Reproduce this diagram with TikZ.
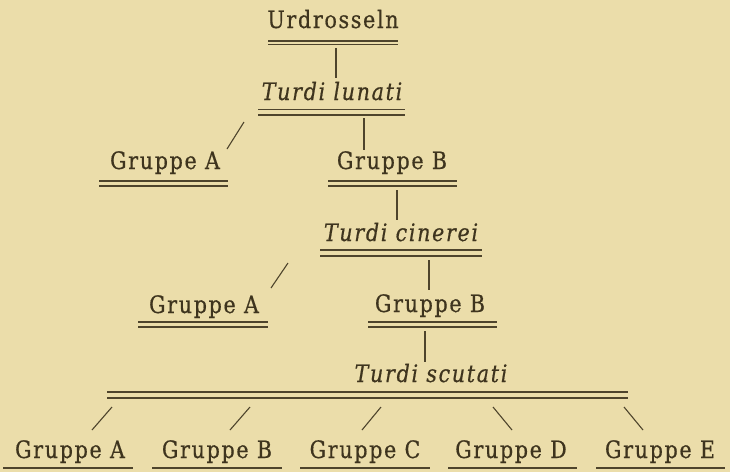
\documentclass[tikz,border=0pt]{standalone}
\usepackage{fontspec}
\setmainfont{DejaVu Serif}[FakeStretch=0.86, LetterSpace=7, FakeBold=0.5]
\definecolor{bg}{RGB}{235,221,170}
\definecolor{ink}{RGB}{62,52,30}
\definecolor{rule}{RGB}{78,68,44}
\begin{document}
\begin{tikzpicture}[x=1pt,y=-1pt,
  lbl/.style={font=\fontsize{24}{26}\selectfont, text=ink, inner sep=0pt, anchor=base},
  itl/.style={font=\fontsize{24}{26}\selectfont\itshape, text=ink, inner sep=0pt, anchor=base},
  ul/.style={draw=rule, line width=1.1pt},
  conn/.style={draw=rule, line width=1.1pt}]
\useasboundingbox (0,0) rectangle (730,472);
\fill[bg] (0,0) rectangle (730,472);

% labels
\node[lbl] (u)   at (333,28)  {Urdrosseln};
\node[itl] (tl)  at (332,100) {Turdi lunati};
\node[lbl] (ga1) at (165,169) {Gruppe A};
\node[lbl] (gb1) at (392,169) {Gruppe B};
\node[itl] (tc)  at (401,241) {Turdi cinerei};
\node[lbl] (ga2) at (204,313) {Gruppe A};
\node[lbl] (gb2) at (430,312) {Gruppe B};
\node[itl] (ts)  at (431,382) {Turdi scutati};
\node[lbl] (ba)  at (70,458)  {Gruppe A};
\node[lbl] (bb)  at (217,458) {Gruppe B};
\node[lbl] (bc)  at (365,458) {Gruppe C};
\node[lbl] (bd)  at (511,458) {Gruppe D};
\node[lbl] (be)  at (660,458) {Gruppe E};

% double underlines
\foreach \xa/\xb/\ya/\yb in {268/398/41/44.5, 258/405/109.5/115, 99/228/181/186,
  328/457/181/186, 320/482/250/256, 138/268/322/327, 368/497/322/327, 107/628/392/398}{
  \draw[ul] (\xa,\ya) -- (\xb,\ya);
  \draw[ul] (\xa,\yb) -- (\xb,\yb);
}
% single underlines
\foreach \xa/\xb in {3/133, 152/282, 300/430, 448/577, 596/725}{
  \draw[ul] (\xa,468) -- (\xb,468);
}

% connector end points
\coordinate (c1a) at (336,48);  \coordinate (c1b) at (336,78);
\coordinate (c2a) at (364,118); \coordinate (c2b) at (364,150);
\coordinate (s1a) at (244,122); \coordinate (s1b) at (227,149);
\coordinate (c3a) at (397,190); \coordinate (c3b) at (397,220);
\coordinate (c4a) at (429,260); \coordinate (c4b) at (429,290);
\coordinate (s2a) at (288,263); \coordinate (s2b) at (271,288);
\coordinate (c5a) at (425,331); \coordinate (c5b) at (425,362);
\coordinate (pa1) at (112,407); \coordinate (pa2) at (92,430);
\coordinate (pb1) at (250,407); \coordinate (pb2) at (230,430);
\coordinate (pc1) at (381,407); \coordinate (pc2) at (362,430);
\coordinate (pd1) at (493,407); \coordinate (pd2) at (512,430);
\coordinate (pe1) at (624,407); \coordinate (pe2) at (643,430);

\draw[conn] (c1a) -- (c1b);
\draw[conn] (c2a) -- (c2b);
\draw[conn] (s1a) -- (s1b);
\draw[conn] (c3a) -- (c3b);
\draw[conn] (c4a) -- (c4b);
\draw[conn] (s2a) -- (s2b);
\draw[conn] (c5a) -- (c5b);
\draw[conn] (pa1) -- (pa2);
\draw[conn] (pb1) -- (pb2);
\draw[conn] (pc1) -- (pc2);
\draw[conn] (pd1) -- (pd2);
\draw[conn] (pe1) -- (pe2);
\end{tikzpicture}
\end{document}
